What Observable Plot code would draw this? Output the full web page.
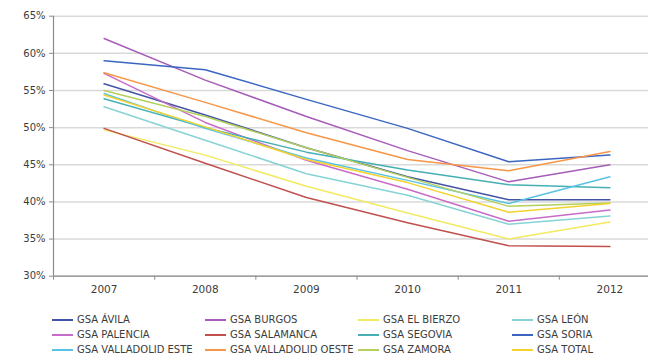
<!DOCTYPE html>
<html>
<head>
<meta charset="utf-8">
<script src="https://cdn.jsdelivr.net/npm/d3@7"></script>
<script src="https://cdn.jsdelivr.net/npm/@observablehq/plot@0.6"></script>
<style>
  body { margin: 0; background: #fff; font-family: "DejaVu Sans", sans-serif; }
  #wrap { position: relative; width: 648px; height: 355px; overflow: hidden; }
  #legend { position: absolute; left: 52px; top: 312px; display: grid;
            grid-template-columns: 153px 153px 154px 120px; grid-auto-rows: 15px;
            font-size: 10px; color: #3c3c3c; }
  .item { display: flex; align-items: center; white-space: nowrap; }
  .sw { width: 21px; height: 2px; margin-right: 4px; flex: none; }
</style>
</head>
<body>
<div id="wrap"><div id="chart"></div><div id="legend"></div></div>
<script>
const years = [2007, 2008, 2009, 2010, 2011, 2012];
const yTicks = [30, 35, 40, 45, 50, 55, 60, 65];

const avila      = [55.9, 51.7, 47.3, 43.4, 40.3, 40.3];
const burgos     = [62.0, 56.4, 51.5, 46.9, 42.7, 45.0];
const elBierzo   = [49.7, 46.3, 42.1, 38.5, 35.0, 37.3];
const leon       = [52.8, 48.3, 43.8, 40.9, 37.0, 38.1];
const palencia   = [57.3, 50.7, 45.6, 41.7, 37.4, 38.9];
const salamanca  = [49.9, 45.2, 40.6, 37.2, 34.1, 34.0];
const segovia    = [53.9, 50.0, 46.7, 44.3, 42.3, 41.9];
const soria      = [59.0, 57.8, 53.8, 49.9, 45.4, 46.3];
const vallEste   = [54.6, 49.9, 45.9, 42.9, 39.8, 43.4];
const vallOeste  = [57.4, 53.4, 49.3, 45.7, 44.2, 46.8];
const zamora     = [55.0, 51.5, 47.3, 43.3, 39.4, 39.85];
const total      = [54.4, 50.1, 45.7, 42.6, 38.6, 39.8];

const seriesNames = ["GSA ÁVILA", "GSA BURGOS", "GSA EL BIERZO", "GSA LEÓN",
  "GSA PALENCIA", "GSA SALAMANCA", "GSA SEGOVIA", "GSA SORIA",
  "GSA VALLADOLID ESTE", "GSA VALLADOLID OESTE", "GSA ZAMORA", "GSA TOTAL"];
const seriesValues = [avila, burgos, elBierzo, leon, palencia, salamanca,
  segovia, soria, vallEste, vallOeste, zamora, total];
const seriesColors = ["#4454a4", "#a65cb8", "#f2ea60", "#86d3d6",
  "#c96bc9", "#c0504d", "#46afb4", "#3a66c2",
  "#58c3e6", "#f79646", "#b4cf5c", "#f4d22e"];

const rows = [];
seriesNames.forEach((name, i) => {
  years.forEach((yr, j) => rows.push({series: name, year: yr, value: seriesValues[i][j]}));
});
const bounds = years.map(y => y - 0.5).concat([years[years.length - 1] + 0.5]);

const H = 300;
const chart = Plot.plot({
  width: 648,
  height: H,
  marginLeft: 53,
  marginRight: 0,
  marginTop: 15.7,
  marginBottom: H - 275.7,
  style: {fontFamily: "DejaVu Sans, sans-serif", fontSize: "10px", color: "#3c3c3c", background: "#fff", overflow: "visible"},
  x: {type: "linear", domain: [bounds[0], bounds[bounds.length - 1]], range: [53, 660]},
  y: {domain: [30, 65]},
  color: {domain: seriesNames, range: seriesColors},
  marks: [
    Plot.gridY(yTicks, {stroke: "#d9d9d9", strokeOpacity: 1, strokeWidth: 1.5}),
    Plot.ruleY([30], {stroke: "#8c8c8c", strokeWidth: 1.2}),
    Plot.ruleX([bounds[0]], {stroke: "#8c8c8c", strokeWidth: 1.2}),
    Plot.axisY(yTicks, {tickSize: 4, tickPadding: 4, stroke: "#8c8c8c", fill: "#3c3c3c",
      tickFormat: d => d + "%", fontSize: 10, label: null}),
    Plot.axisX(bounds, {tickSize: 4, stroke: "#8c8c8c", tickFormat: () => "", label: null}),
    Plot.axisX(years, {tickSize: 0, tickPadding: 9, tickFormat: d => String(d), fill: "#3c3c3c",
      fontSize: 10.5, label: null}),
    Plot.line(rows, {x: "year", y: "value", z: "series", stroke: "series", strokeWidth: 1.5})
  ]
});
document.getElementById("chart").appendChild(chart);

const legend = document.getElementById("legend");
seriesNames.forEach((name, i) => {
  const it = document.createElement("div");
  it.className = "item";
  const sw = document.createElement("span");
  sw.className = "sw";
  sw.style.background = seriesColors[i];
  const tx = document.createElement("span");
  tx.textContent = name;
  it.appendChild(sw); it.appendChild(tx);
  legend.appendChild(it);
});
</script>
</body>
</html>
